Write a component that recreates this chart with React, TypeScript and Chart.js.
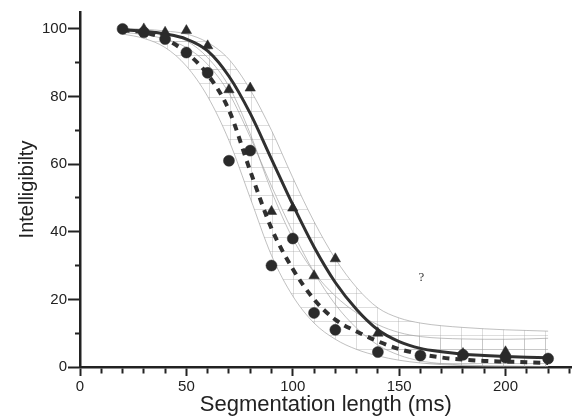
import React, { useEffect, useRef } from 'react';
import { Chart, registerables } from 'chart.js';

Chart.register(...registerables);

// ---- data ----
const circleX = [20, 30, 40, 50, 60, 70, 80, 90, 100, 110, 120, 140, 160, 180, 200, 220];
const circleY = [100, 99, 97, 93, 87, 61, 64, 30, 38, 16, 11, 4.4, 3.4, 3.6, 2.8, 2.5];

const triangleX = [30, 40, 50, 60, 70, 80, 90, 100, 110, 120, 140, 180, 200];
const triangleY = [100, 99, 99.5, 95, 82, 82.5, 46, 47, 27, 32, 10, 4, 4.5];

const fitX = [20, 30, 40, 50, 60, 70, 80, 90, 100, 110, 120, 130, 140, 150, 160, 170, 180, 190, 200, 210, 220];
const fitSolid = [99.7, 99.3, 98.5, 97, 93.5, 86, 75, 61.5, 48, 35.5, 25, 17, 11, 7.5, 5.5, 4.5, 3.8, 3.4, 3.1, 2.9, 2.7];
const fitDashed = [99.6, 99, 97, 93, 86.5, 76, 58, 41, 29, 20, 14, 10.5, 7.6, 5.3, 3.8, 2.8, 2.2, 1.8, 1.6, 1.4, 1.2];

const solidUpper = [100.2, 99.9, 99.4, 98.5, 96, 91, 82, 70, 56, 43, 32, 23.5, 17.5, 14.5, 13, 12.2, 11.7, 11.3, 11, 10.8, 10.6];
const solidLower = [99, 98.3, 97, 94.5, 89.5, 81, 68, 53.5, 40, 28, 18.5, 11.5, 6.5, 3.5, 1.8, 1, 0.6, 0.4, 0.3, 0.2, 0.1];
const dashedUpper = [99.9, 99.6, 98.6, 96.5, 91.5, 83, 69, 52, 38, 28, 21, 16, 12.5, 10.2, 9, 8.5, 8.3, 8.2, 8.2, 8.3, 8.5];
const dashedLower = [98.5, 97.2, 94.5, 89, 80, 67, 50, 33, 21, 13, 8.2, 5.2, 3.3, 2, 1.2, 0.7, 0.4, 0.2, 0.1, 0, 0];

const xMin = 0;
const xMax = 231;
const yMin = 0;
const yMax = 105;
const xStep = 10;
const yStep = 10;
const xLabelEvery = 50;
const yLabelEvery = 20;

const xTitle = 'Segmentation length (ms)';
const yTitle = 'Intelligibilty';
const noteText = '?';
const noteX = 160.5;
const noteY = 26.4;

const toPts = (xs: number[], ys: number[]) => xs.map((x, i) => ({ x, y: ys[i] }));

function makeHatch(): CanvasPattern | string {
  const c = document.createElement('canvas');
  c.width = 21;
  c.height = 14;
  const g = c.getContext('2d');
  if (!g) return 'rgba(0,0,0,0)';
  g.strokeStyle = 'rgba(160,160,160,0.35)';
  g.lineWidth = 1;
  g.beginPath();
  g.moveTo(20.5, 0);
  g.lineTo(20.5, 14);
  g.moveTo(0, 13.5);
  g.lineTo(21, 13.5);
  g.stroke();
  return g.createPattern(c, 'repeat') || 'rgba(0,0,0,0)';
}

const notePlugin = {
  id: 'noteText',
  afterDatasetsDraw(chart: any) {
    const { ctx, scales } = chart;
    ctx.save();
    ctx.font = '13px "Liberation Serif"';
    ctx.fillStyle = '#333';
    ctx.textAlign = 'center';
    ctx.textBaseline = 'middle';
    ctx.fillText(noteText, scales.x.getPixelForValue(noteX), scales.y.getPixelForValue(noteY));
    ctx.restore();
  },
};

export default function App() {
  const ref = useRef<HTMLCanvasElement | null>(null);

  useEffect(() => {
    if (!ref.current) return;
    const hatch = makeHatch();
    const bandLine = 'rgba(150,150,150,0.6)';
    const ink = '#2a2a2a';
    const bandDs = (data: number[], fill: any) => ({
      data: toPts(fitX, data),
      showLine: true,
      borderColor: bandLine,
      borderWidth: 1,
      pointRadius: 0,
      cubicInterpolationMode: 'monotone' as const,
      fill,
      backgroundColor: hatch,
    });
    const chart = new Chart(ref.current, {
      type: 'scatter',
      data: {
        datasets: [
          {
            data: toPts(circleX, circleY),
            pointStyle: 'circle',
            pointRadius: 5.5,
            backgroundColor: ink,
            borderColor: ink,
            borderWidth: 0.5,
            showLine: false,
          },
          {
            data: toPts(triangleX, triangleY),
            pointStyle: 'triangle',
            pointRadius: 6,
            backgroundColor: ink,
            borderColor: ink,
            borderWidth: 0.5,
            showLine: false,
          },
          {
            data: toPts(fitX, fitDashed),
            showLine: true,
            borderColor: '#303030',
            borderWidth: 4,
            borderDash: [7, 6],
            pointRadius: 0,
            cubicInterpolationMode: 'monotone',
            fill: false,
          },
          {
            data: toPts(fitX, fitSolid),
            showLine: true,
            borderColor: '#303030',
            borderWidth: 3,
            pointRadius: 0,
            cubicInterpolationMode: 'monotone',
            fill: false,
          },
          bandDs(solidUpper, '+1'),
          bandDs(solidLower, false),
          bandDs(dashedUpper, '+1'),
          bandDs(dashedLower, false),
        ] as any,
      },
      options: {
        animation: false,
        responsive: false,
        devicePixelRatio: 1,
        layout: { padding: { top: 12, right: 0, left: 0, bottom: 0 } },
        plugins: { legend: { display: false }, tooltip: { enabled: false } },
        scales: {
          x: {
            type: 'linear',
            position: 'bottom',
            min: xMin,
            max: xMax,
            border: { display: true, color: '#222', width: 2.5 },
            grid: {
              drawOnChartArea: false,
              drawTicks: true,
              tickLength: 9,
              tickWidth: 2,
              tickColor: '#222',
              tickBorderDash: (c: any) =>
                c.tick && c.tick.value % xLabelEvery === 0 ? [] : [5, 100],
            } as any,
            ticks: {
              stepSize: xStep,
              includeBounds: false,
              autoSkip: false,
              maxRotation: 0,
              padding: 2,
              color: '#222',
              font: { family: '"Liberation Sans", Arial, sans-serif', size: 15 },
              callback: (v: any) => (Number(v) % xLabelEvery === 0 ? String(v) : ''),
            },
            title: {
              display: true,
              text: xTitle,
              color: '#222',
              font: { family: '"Liberation Sans", Arial, sans-serif', size: 22 },
              padding: { top: 0, bottom: 0 },
            },
            afterFit: (s: any) => {
              s.height = 51;
            },
          },
          y: {
            type: 'linear',
            position: 'left',
            min: yMin,
            max: yMax,
            border: { display: true, color: '#222', width: 2.5 },
            grid: {
              drawOnChartArea: false,
              drawTicks: true,
              tickLength: 12,
              tickWidth: 2,
              tickColor: '#222',
              tickBorderDash: (c: any) =>
                c.tick && c.tick.value % yLabelEvery === 0 ? [] : [0, 7, 5, 100],
            } as any,
            ticks: {
              stepSize: yStep,
              includeBounds: false,
              autoSkip: false,
              padding: 1,
              color: '#222',
              font: { family: '"Liberation Sans", Arial, sans-serif', size: 15 },
              callback: (v: any) => (Number(v) % yLabelEvery === 0 ? String(v) : ''),
            },
            title: {
              display: true,
              text: yTitle,
              color: '#222',
              font: { family: '"Liberation Sans", Arial, sans-serif', size: 20 },
              padding: { top: 15, bottom: 0 },
            },
            afterFit: (s: any) => {
              s.width = 80;
            },
          },
        },
      },
      plugins: [notePlugin],
    });
    return () => chart.destroy();
  }, []);

  return (
    <div style={{ position: 'absolute', left: 0, top: 0, width: 578, height: 418, background: '#fff' }}>
      <canvas ref={ref} width={578} height={418} style={{ width: 578, height: 418, display: 'block' }} />
    </div>
  );
}
